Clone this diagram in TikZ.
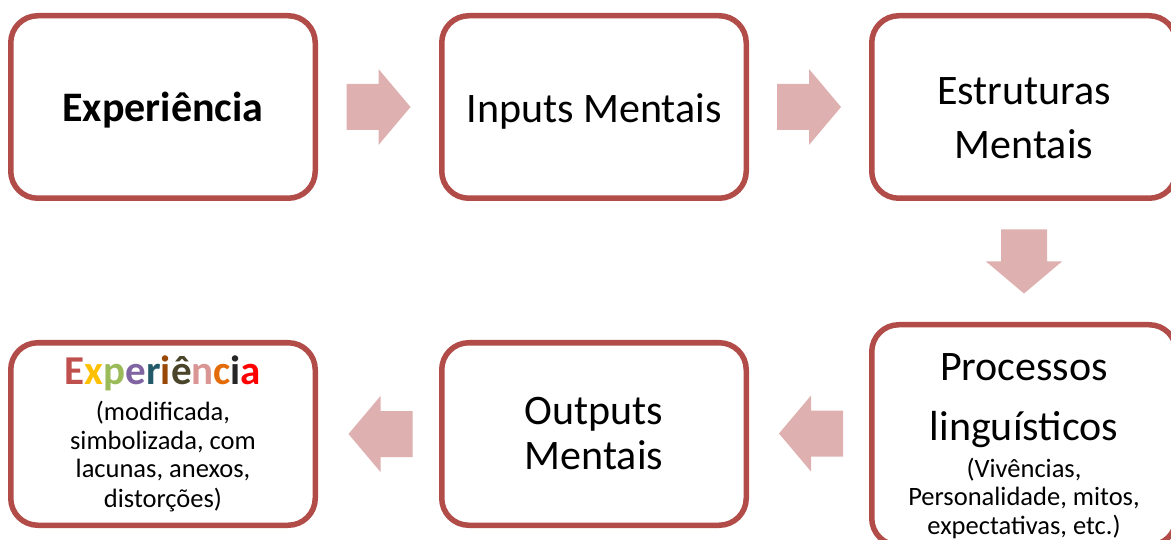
\documentclass[tikz,border=0pt]{standalone}
\usepackage{fontspec}
\setmainfont{Carlito}
\usetikzlibrary{calc}

\definecolor{boxline}{RGB}{178,76,73}
\definecolor{arrowfill}{RGB}{222,176,175}
% letter colours of the rainbow heading
\definecolor{lc1}{RGB}{192,80,77}
\definecolor{lc2}{RGB}{255,192,0}
\definecolor{lc3}{RGB}{155,187,89}
\definecolor{lc4}{RGB}{128,100,162}
\definecolor{lc5}{RGB}{33,89,104}
\definecolor{lc6}{RGB}{152,72,7}
\definecolor{lc7}{RGB}{74,69,42}
\definecolor{lc8}{RGB}{217,150,148}
\definecolor{lc9}{RGB}{227,108,9}
\definecolor{lc10}{RGB}{38,38,38}
\definecolor{lc11}{RGB}{255,0,0}

% centred lines whose baseline is the first line's baseline
\newcommand\centredlines[2]{\vtop{\baselineskip=#1\relax\halign{\hfil##\hfil\cr#2\crcr}}}

% block arrow pointing along +x, centred on the origin
\newcommand\blockarrow[2]{%
  \fill[arrowfill, shift={(#1)}, rotate=#2]
    (-32,-23) -- (0,-23) -- (0,-38) -- (32,0) -- (0,38) -- (0,23) -- (-32,23) -- cycle;}

\tikzset{
  stagebox/.style={draw=boxline, fill=white, line width=5.5pt, rounded corners=27pt,
    minimum width=304.5pt, minimum height=182.5pt, inner sep=0pt},
  bigtext/.style={font=\fontsize{42}{50}\selectfont, inner sep=0pt, anchor=base},
  smalltext/.style={font=\fontsize{26.5}{29}\selectfont, inner sep=0pt, anchor=base},
}

\begin{document}
\begin{tikzpicture}[x=1pt, y=-1pt]
\useasboundingbox (0,0) rectangle (1171,540);
\clip (0,0) rectangle (1171,540);

% stages
\node[stagebox] (b1) at (163,107) {};
\node[stagebox] (b2) at (594,107) {};
\node[stagebox] (b3) at (1024,107) {};
\node[stagebox, minimum height=220.5pt] (b4) at (1024,435) {};
\node[stagebox] (b5) at (594,434) {};
\node[stagebox] (b6) at (163,434) {};

% stage texts
\node[bigtext, font=\fontsize{42}{50}\selectfont\bfseries] (t1) at ($(b1.center)+(0,15)$) {Experiência};
\node[bigtext] (t2) at ($(b2.center)+(0,16)$) {Inputs Mentais};
\node[bigtext] (t3) at ($(b3.center)+(0,-2)$) {\centredlines{54pt}{Estruturas\cr Mentais}};
\node[bigtext] (t4a) at ($(b4.center)+(0,-54)$) {\centredlines{59pt}{Processos\cr linguísticos}};
\node[smalltext] (t4b) at ($(b4.center)+(0,42)$) {\centredlines{28.5pt}{(Vivências,\cr Personalidade, mitos,\cr expectativas, etc.)}};
\node[bigtext] (t5) at ($(b5.center)+(0,-10)$) {\centredlines{45pt}{Outputs\cr Mentais}};
\node[bigtext, font=\fontsize{41}{50}\selectfont\bfseries] (t6a) at ($(b6.center)+(0,-50)$)
  {\textcolor{lc1}{E}\textcolor{lc2}{x}\textcolor{lc3}{p}\textcolor{lc4}{e}\textcolor{lc5}{r}\textcolor{lc6}{i}\textcolor{lc7}{ê}\textcolor{lc8}{n}\textcolor{lc9}{c}\textcolor{lc10}{i}\textcolor{lc11}{a}};
\node[smalltext] (t6b) at ($(b6.center)+(0,-14)$) {\centredlines{29pt}{(modificada,\cr simbolizada, com\cr lacunas, anexos,\cr distorções)}};

% flow arrows between the stages
\coordinate (a12) at ($(b1.east)!0.5!(b2.west)$);
\coordinate (a23) at ($(b2.east)!0.5!(b3.west)$);
\coordinate (a34) at ($(b3.south)!0.5!(b4.north)$);
\coordinate (a45) at ($(b4.west)!0.5!(b5.east)+(2,-1)$);
\coordinate (a56) at ($(b5.west)!0.5!(b6.east)+(2,0)$);
\blockarrow{a12}{0}
\blockarrow{a23}{0}
\blockarrow{a34}{-90}
\blockarrow{a45}{180}
\blockarrow{a56}{180}
\end{tikzpicture}
\end{document}
